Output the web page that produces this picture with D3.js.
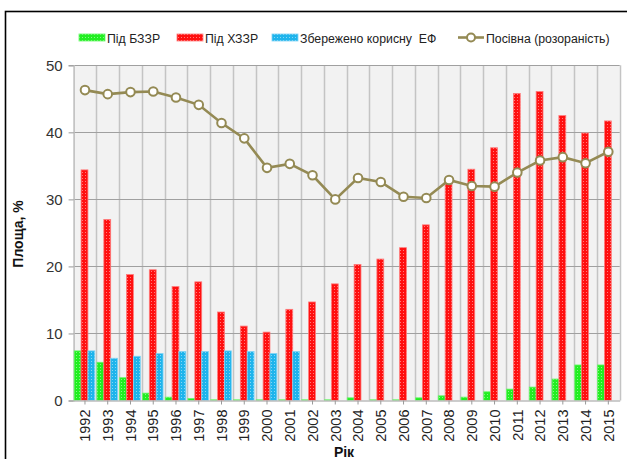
<!DOCTYPE html>
<html>
<head>
<meta charset="utf-8">
<script src="https://cdn.jsdelivr.net/npm/d3@7"></script>
<style>
  body { margin: 0; background: #fff; }
  svg { display: block; font-family: "Liberation Sans", Arial, sans-serif; }
  .leg { white-space: pre; }
</style>
</head>
<body>
<svg id="chart" width="627" height="459"></svg>
<script>
// data
var years = ["1992","1993","1994","1995","1996","1997","1998","1999","2000","2001","2002","2003",
             "2004","2005","2006","2007","2008","2009","2010","2011","2012","2013","2014","2015"];
var bzzr = [7.4,5.7,3.4,1.1,0.5,0.3,0.1,0.1,0.1,0.1,0.1,0.1,0.4,0.1,0.1,0.4,0.7,0.5,1.3,1.7,2.0,3.2,5.3,5.3];
var hzzr = [34.4,27.0,18.8,19.5,17.0,17.7,13.2,11.1,10.2,13.6,14.7,17.4,20.3,21.1,22.8,26.2,32.5,34.5,37.7,45.8,46.1,42.5,39.9,41.7];
var saved = [7.4,6.3,6.6,7.0,7.3,7.3,7.4,7.3,7.0,7.3,null,null,null,null,null,null,null,null,null,null,null,null,null,null];
var sown = [46.3,45.7,46.0,46.1,45.2,44.1,41.4,39.1,34.7,35.3,33.6,30.0,33.2,32.6,30.4,30.2,32.9,32.0,31.9,34.0,35.8,36.3,35.4,37.1];
var yTicks = [0,10,20,30,40,50];
var seriesNames = ["Під БЗЗР", "Під ХЗЗР", "Збережено корисну  ЕФ"];
var lineName = "Посівна (розораність)";

var colors = ["#22ee22", "#ff1010", "#1eb4ec"];
var edges = ["#66f766", "#ff7a7a", "#7fd3f4"];
var lineColor = "#948a54";

var svg = d3.select("#chart");
var plotL = 73.6, plotR = 619.7, plotT = 65.3, plotB = 400.5;

// dotted fill patterns
var defs = svg.append("defs");
colors.forEach(function(c, i) {
    var p = defs.append("pattern").attr("id", "pat" + i)
        .attr("width", 3).attr("height", 3).attr("patternUnits", "userSpaceOnUse");
    p.append("rect").attr("width", 3).attr("height", 3).attr("fill", c);
    p.append("rect").attr("x", 1).attr("y", 1).attr("width", 1).attr("height", 1)
        .attr("fill", "#fff").attr("opacity", 0.45);
});

// frame
svg.append("rect").attr("x", 5.5).attr("y", 11.5).attr("width", 640).attr("height", 470)
    .attr("fill", "none").attr("stroke", "#000").attr("stroke-width", 1.6);

var x = d3.scaleBand().domain(years).range([plotL, plotR]).padding(0);
var x1 = d3.scaleBand().domain([0, 1, 2]).range([0.6, 21.2]).padding(0);
var y = d3.scaleLinear().domain([0, 50]).range([plotB, plotT]);

// plot background
svg.append("rect").attr("x", plotL).attr("y", plotT).attr("width", plotR - plotL).attr("height", plotB - plotT)
    .attr("fill", "#f2f2f2");

// vertical grid
svg.append("g").selectAll("line").data(years)
    .enter().append("line")
    .attr("x1", function(d) { return Math.round(x(d) + x.bandwidth()) + 0.5; })
    .attr("x2", function(d) { return Math.round(x(d) + x.bandwidth()) + 0.5; })
    .attr("y1", plotT).attr("y2", plotB)
    .attr("stroke", "#c4c4c4").attr("stroke-width", 1.5);

// horizontal grid
svg.append("g").selectAll("line").data(yTicks.slice(1))
    .enter().append("line")
    .attr("x1", plotL).attr("x2", plotR)
    .attr("y1", function(d) { return Math.round(y(d)) + 0.5; })
    .attr("y2", function(d) { return Math.round(y(d)) + 0.5; })
    .attr("stroke", "#a0a0a0").attr("stroke-width", 1.2);

// y axis
var yAxis = svg.append("g").attr("transform", "translate(" + plotL + ",0)")
    .call(d3.axisLeft(y).tickValues(yTicks).tickSize(5).tickPadding(6));
yAxis.select(".domain").attr("stroke", "#bdbdbd").attr("stroke-width", 1.5);
yAxis.selectAll(".tick line").attr("stroke", "#999");
yAxis.selectAll("text").attr("font-size", 15).attr("fill", "#333")
    .attr("font-family", "'Liberation Sans', Arial, sans-serif");

// bars
var allSeries = [bzzr, hzzr, saved];
allSeries.forEach(function(vals, si) {
    svg.append("g").selectAll("rect")
        .data(vals.map(function(v, i) { return { year: years[i], v: v }; })
            .filter(function(d) { return d.v != null; }))
        .enter().append("rect")
        .attr("x", function(d) { return x(d.year) + x1(si); })
        .attr("width", x1.bandwidth())
        .attr("y", function(d) { return y(d.v); })
        .attr("height", function(d) { return plotB - y(d.v); })
        .attr("fill", "url(#pat" + si + ")")
        .attr("stroke", edges[si]).attr("stroke-width", 0.8);
});

// x axis
var xAxis = svg.append("g").attr("transform", "translate(0," + plotB + ")")
    .call(d3.axisBottom(x).tickSize(4).tickSizeOuter(0));
xAxis.select(".domain").attr("stroke", "#bdbdbd").attr("stroke-width", 1.5);
xAxis.selectAll(".tick line").attr("stroke", "#999");
xAxis.selectAll("text")
    .attr("font-size", 14.5).attr("fill", "#222")
    .attr("font-family", "'Liberation Sans', Arial, sans-serif")
    .attr("text-anchor", "end")
    .attr("transform", "rotate(-90)")
    .attr("x", -9).attr("y", 0).attr("dy", "0.36em");

// line
var line = d3.line()
    .x(function(d, i) { return x(years[i]) + x.bandwidth() / 2; })
    .y(function(d) { return y(d); });
svg.append("path").datum(sown).attr("d", line)
    .attr("fill", "none").attr("stroke", lineColor).attr("stroke-width", 2.6);
svg.append("g").selectAll("circle").data(sown).enter().append("circle")
    .attr("cx", function(d, i) { return x(years[i]) + x.bandwidth() / 2; })
    .attr("cy", function(d) { return y(d); })
    .attr("r", 4.3)
    .attr("fill", "#fff").attr("stroke", lineColor).attr("stroke-width", 2);

// axis titles
svg.append("text").attr("transform", "translate(23,234) rotate(-90)")
    .attr("text-anchor", "middle").attr("font-weight", "bold").attr("font-size", 14)
    .attr("fill", "#111").text("Площа, %");
svg.append("text").attr("x", 344).attr("y", 457)
    .attr("text-anchor", "middle").attr("font-weight", "bold").attr("font-size", 14)
    .attr("fill", "#111").text("Рік");

// legend
var legendX = [79, 177, 272];
seriesNames.forEach(function(n, i) {
    svg.append("rect").attr("x", legendX[i]).attr("y", 34).attr("width", 26).attr("height", 7)
        .attr("fill", "url(#pat" + i + ")").attr("stroke", edges[i]).attr("stroke-width", 0.8);
    svg.append("text").attr("class", "leg").attr("x", legendX[i] + 28).attr("y", 42.5)
        .attr("font-size", 12.3).attr("fill", "#222")
        .text(n);
});
svg.append("line").attr("x1", 458).attr("x2", 484).attr("y1", 37.5).attr("y2", 37.5)
    .attr("stroke", lineColor).attr("stroke-width", 2.6);
svg.append("circle").attr("cx", 471).attr("cy", 37.5).attr("r", 4)
    .attr("fill", "#fff").attr("stroke", lineColor).attr("stroke-width", 2);
svg.append("text").attr("class", "leg").attr("x", 486).attr("y", 42.5)
    .attr("font-size", 12.3).attr("fill", "#222")
    .attr("font-family", "'Liberation Sans Narrow', 'Liberation Sans', Arial, sans-serif")
    .text(lineName);
</script>
</body>
</html>
